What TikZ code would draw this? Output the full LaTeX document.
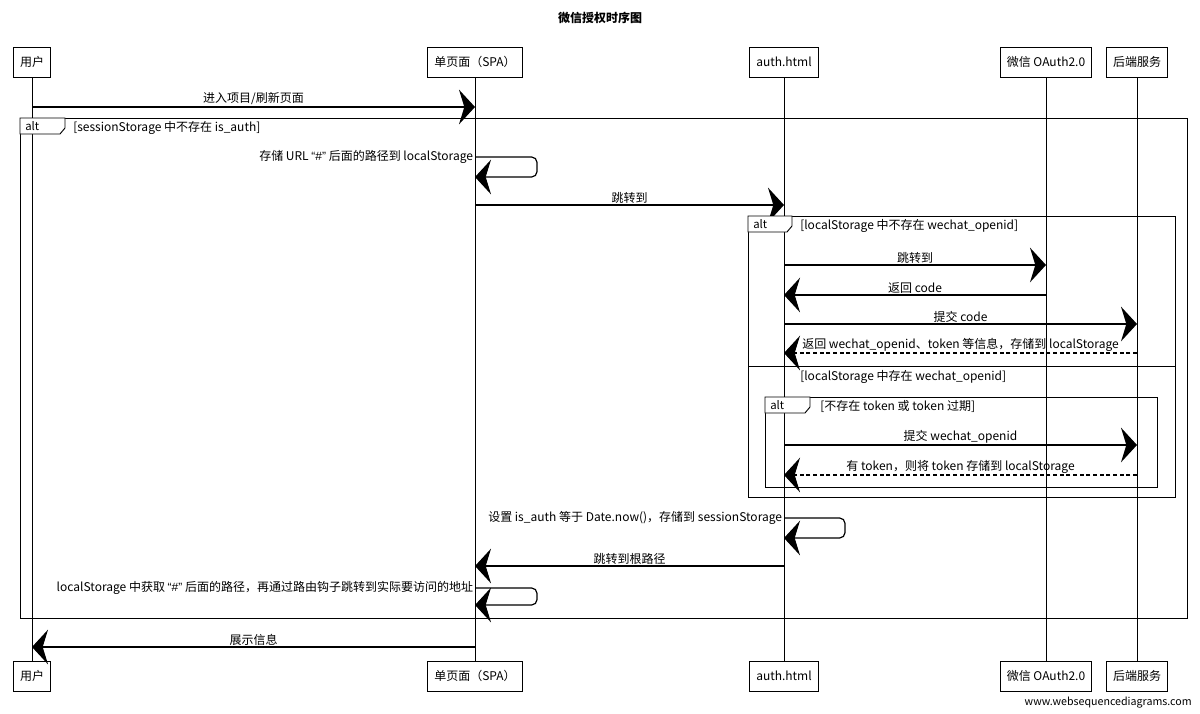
\documentclass[tikz,border=0pt]{standalone}
\usepackage{fontspec}
\setmainfont{Noto Sans CJK SC}
\newfontfamily\latinq{Liberation Sans}
\usetikzlibrary{arrows.meta,positioning}
\tikzset{
	actor/.style={
		draw, rectangle, minimum height=22.5pt,
		inner xsep=5pt, line width=0.75pt,
		font=\fontsize{9}{10}\selectfont
	},
	lifeline/.style={line width=0.6pt},
	msg/.style={line width=0.9pt, -{Stealth[length=12pt,width=26pt,inset=4pt]}},
	reply/.style={msg, dash pattern=on 3pt off 2pt},
	selfmsg/.style={msg, rounded corners=4pt},
	lbl/.style={font=\fontsize{9}{10}\selectfont, inner sep=1pt},
	frame/.style={draw, line width=0.7pt},
	tag/.style={font=\fontsize{8.5}{10}\selectfont, anchor=west, inner sep=0pt},
	guard/.style={font=\fontsize{9}{10}\selectfont, anchor=west, inner sep=0pt}
}
\begin{document}
\begin{tikzpicture}[x=0.75pt, y=-0.75pt]
	\useasboundingbox (0,0) rectangle (1200,714);
	\node[font=\fontsize{9}{10}\selectfont\bfseries] (title) at (600,18) {微信授权时序图};

	\node[actor] (user)    at (32,62)   {用户};
	\node[actor] (spa)     at (475,62)  {单页面（SPA）};
	\node[actor] (auth)    at (784,62)  {auth.html};
	\node[actor] (wechat)  at (1046,62) {微信 OAuth2.0};
	\node[actor] (backend) at (1137,62) {后端服务};
	\node[actor] (userB)    at (32,676)   {用户};
	\node[actor] (spaB)     at (475,676)  {单页面（SPA）};
	\node[actor] (authB)    at (784,676)  {auth.html};
	\node[actor] (wechatB)  at (1046,676) {微信 OAuth2.0};
	\node[actor] (backendB) at (1137,676) {后端服务};
	\foreach \a in {user,spa,auth,wechat,backend}
		\draw[lifeline] (\a) -- (\a B);

	\draw[msg] (user |- 0,107) -- node[lbl, above] {进入项目/刷新页面} (spa |- 0,107);

	\draw[frame] (20,118) rectangle (1187,618);
	\draw[frame, fill=white] (20,118) -- (65,118) -- (65,128) -- (60,134) -- (20,134) -- cycle;
	\node[tag] (alt1) at (25,126) {alt};
	\node[guard] (cond1) at (73,128) {[sessionStorage 中不存在 is\_auth]};

	\draw[selfmsg] (spa |- 0,157) node[lbl, left] {存储 URL {\latinq “\#”} 后面的路径到 localStorage}
		-- (537,157) -- (537,177) -- (spa |- 0,177);
	\draw[msg] (spa |- 0,205) -- node[lbl, above] {跳转到} (auth |- 0,205);

	\draw[frame] (748,216) rectangle (1175,497);
	\draw[frame, fill=white] (748,216) -- (792,216) -- (792,226) -- (787,232) -- (748,232) -- cycle;
	\node[tag] (alt2) at (753,224) {alt};
	\node[guard] (cond2) at (800,226) {[localStorage 中不存在 wechat\_openid]};

	\draw[msg] (auth |- 0,265) -- node[lbl, above] {跳转到} (wechat |- 0,265);
	\draw[msg] (wechat |- 0,295) -- node[lbl, above] {返回 code} (auth |- 0,295);
	\draw[msg] (auth |- 0,324) -- node[lbl, above] {提交 code} (backend |- 0,324);
	\draw[reply] (backend |- 0,353) -- node[lbl, above] {返回 wechat\_openid、token 等信息，存储到 localStorage} (auth |- 0,353);

	\draw[frame] (748,366) -- (1175,366);
	\node[guard] (cond3) at (800,377) {[localStorage 中存在 wechat\_openid]};

	\draw[frame] (765,397) rectangle (1157,487);
	\draw[frame, fill=white] (765,397) -- (810,397) -- (810,407) -- (805,413) -- (765,413) -- cycle;
	\node[tag] (alt3) at (770,405) {alt};
	\node[guard] (cond4) at (820,406) {[不存在 token 或 token 过期]};

	\draw[msg] (auth |- 0,445) -- node[lbl, above] {提交 wechat\_openid} (backend |- 0,445);
	\draw[reply] (backend |- 0,475) -- node[lbl, above] {有 token，则将 token 存储到 localStorage} (auth |- 0,475);

	\draw[selfmsg] (auth |- 0,518) node[lbl, left] {设置 is\_auth 等于 Date.now()，存储到 sessionStorage}
		-- (845,518) -- (845,538) -- (auth |- 0,538);
	\draw[msg] (auth |- 0,566) -- node[lbl, above] {跳转到根路径} (spa |- 0,566);
	\draw[selfmsg] (spa |- 0,588) node[lbl, left] {localStorage 中获取 {\latinq “\#”} 后面的路径，再通过路由钩子跳转到实际要访问的地址}
		-- (537,588) -- (537,605) -- (spa |- 0,605);

	\draw[msg] (spa |- 0,647) -- node[lbl, above] {展示信息} (user |- 0,647);

	\node[font=\fontsize{8}{9}\selectfont, anchor=east, inner sep=0pt] (credit) at (1192,703) {www.websequencediagrams.com};
\end{tikzpicture}
\end{document}
